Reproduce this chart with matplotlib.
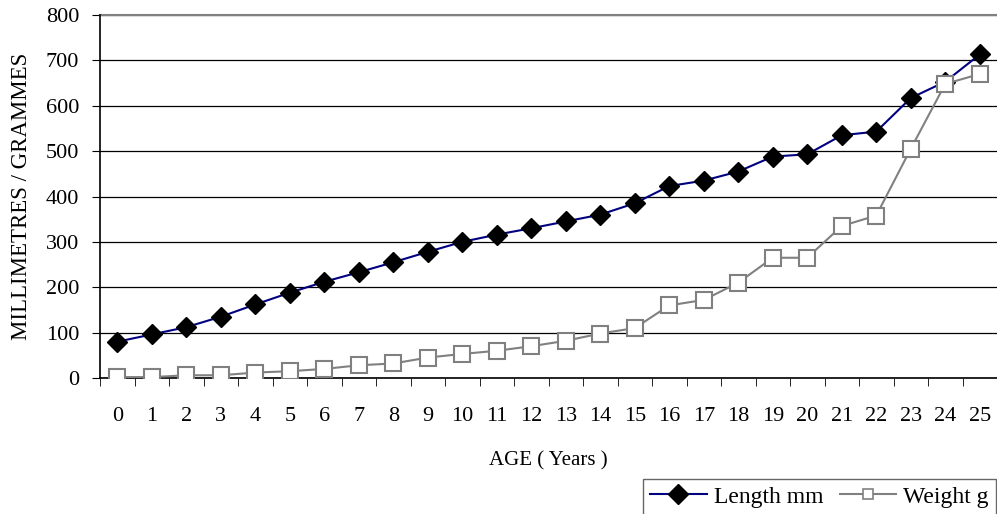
import numpy as np
import matplotlib.pyplot as plt

plt.rcParams['font.family'] = ['Liberation Serif', 'DejaVu Serif']

# age in years
age = list(range(26))
# length (mm) and weight (g)
length_mm = [80, 96, 112, 135, 162, 188, 212, 233, 255, 278, 300, 316, 330, 345, 360,
             385, 423, 435, 455, 488, 493, 535, 543, 617, 653, 713]
weight_g = [2, 2, 6, 6, 12, 15, 20, 28, 32, 45, 53, 60, 70, 82, 98,
            110, 160, 172, 210, 265, 265, 335, 358, 505, 648, 670]
y_ticks = [0, 100, 200, 300, 400, 500, 600, 700, 800]

fig = plt.figure(figsize=(9.97, 5.14), dpi=100)
ax = fig.add_axes([100 / 997, 1 - 378 / 514, 897 / 997, 363 / 514])

ax.plot(age, length_mm, '-', color='#000080', lw=1.5, marker='D', ms=10.5,
        mfc='black', mec='black', label='Length mm', zorder=3)
ax.plot(age, weight_g, '-', color='#808080', lw=1.5, marker='s', ms=12,
        mfc='white', mec='#808080', mew=1.5, label='Weight g', zorder=3)

ax.set_xlim(-0.5, 25.5)
ax.set_ylim(0, 800)
ax.set_yticks(y_ticks)
ax.set_xticks(age)
ax.set_xticks(np.arange(-0.5, 26, 1), minor=True)
ax.tick_params(axis='x', which='major', length=0, pad=21, labelsize=16)
ax.tick_params(axis='x', which='minor', length=6, direction='out', color='black')
ax.tick_params(axis='y', length=6, direction='out', labelsize=16, pad=9)
ax.grid(axis='y', color='black', lw=0.9)
for s in ['top', 'right']:
    ax.spines[s].set_visible(False)
ax.spines['left'].set_linewidth(1.2)
ax.spines['bottom'].set_linewidth(1.2)
ax.axhline(800, color='#808080', lw=1.5, clip_on=False)

ax.set_xlabel('AGE ( Years )', fontsize=15, labelpad=18)
ax.set_ylabel('MILLIMETRES / GRAMMES', fontsize=16.5, labelpad=10)

leg = fig.legend(loc='upper right', bbox_to_anchor=(996 / 997, 1 - 479 / 514), ncol=2,
                 fontsize=17, frameon=True, fancybox=False, edgecolor='#404040',
                 handlelength=2.4, borderpad=0.3, borderaxespad=0, columnspacing=0.7,
                 handletextpad=0.3)
leg.get_frame().set_linewidth(1.0)
leg.legend_handles[0].set_markersize(10)
leg.legend_handles[1].set_markersize(7)
leg.legend_handles[1].set_markeredgewidth(1.2)

fig.savefig('out.png', dpi=100)
